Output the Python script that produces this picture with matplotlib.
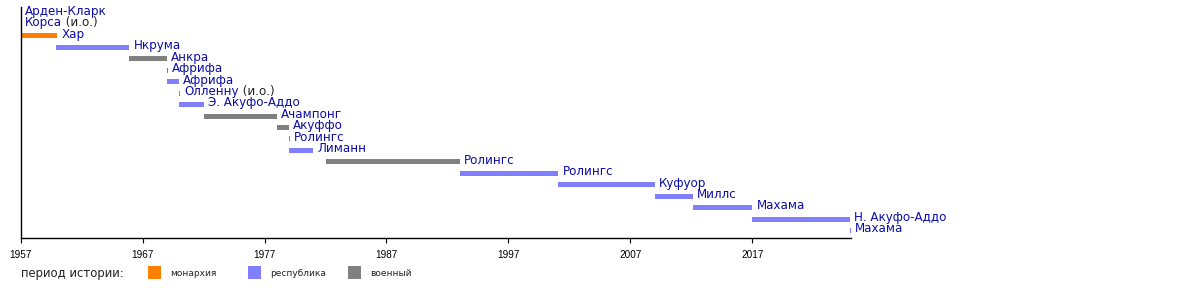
import matplotlib.pyplot as plt
from matplotlib.patches import Rectangle

# Главы государства Ганы (годы)
names = ['Арден-Кларк', 'Корса', 'Хар', 'Нкрума', 'Анкра', 'Африфа', 'Африфа',
         'Олленну', 'Э. Акуфо-Аддо', 'Ачампонг', 'Акуффо', 'Ролингс', 'Лиманн',
         'Ролингс', 'Ролингс', 'Куфуор', 'Миллс', 'Махама', 'Н. Акуфо-Аддо', 'Махама']
notes = ['', '(и.о.)', '', '', '', '', '', '(и.о.)', '', '', '', '', '', '', '', '', '', '', '', '']
starts = [1957.0, 1957.0, 1957.0, 1959.9, 1965.9, 1969.0, 1969.0, 1970.0, 1970.0, 1972.0,
          1978.0, 1979.0, 1979.0, 1982.0, 1993.0, 2001.1, 2009.0, 2012.1, 2017.0, 2025.0]
ends = [1957.0, 1957.0, 1960.0, 1965.9, 1969.0, 1969.08, 1970.0, 1970.08, 1972.0, 1978.0,
        1979.0, 1979.08, 1981.0, 1993.0, 2001.1, 2009.0, 2012.1, 2017.0, 2025.0, 2025.08]
periods = ['m', 'm', 'm', 'r', 'v', 'v', 'r', 'r', 'r', 'v',
           'v', 'v', 'r', 'v', 'r', 'r', 'r', 'r', 'r', 'r']

period_colors = {'m': '#ff8000', 'r': '#8080ff', 'v': '#808080'}
legend_keys = ['m', 'r', 'v']
legend_labels = ['монархия', 'республика', 'военный']
ticks = [1957, 1967, 1977, 1987, 1997, 2007, 2017]

W, H = 1200, 288
fig = plt.figure(figsize=(12, 2.88), dpi=100)

# область графика в пикселях
left, right, top, bottom = 20.7, 851.0, 7.0, 238.3
ax = fig.add_axes([left / W, (H - bottom) / H, (right - left) / W, (bottom - top) / H])
px_per_year = 12.193
ax.set_xlim(1957, 1957 + (right - left) / px_per_year)
row_h = 11.44
row0 = 13.1
ax.set_ylim((bottom - row0) / row_h, (top - row0) / row_h)

for i in range(len(names)):
    ax.barh(i, ends[i] - starts[i], left=starts[i], height=0.44,
            color=period_colors[periods[i]], linewidth=0)
    t = ax.annotate(names[i], xy=(ends[i], i), xytext=(3, 1.2), textcoords='offset points',
                    va='center', ha='left', fontsize=8.6, color='#0c0ca8',
                    annotation_clip=False)
    if notes[i]:
        ax.annotate(' ' + notes[i], xy=(1, 0), xycoords=t, va='bottom', ha='left',
                    fontsize=8.6, color='#222222')

for s in ['top', 'right']:
    ax.spines[s].set_visible(False)
ax.spines['left'].set_linewidth(1.0)
ax.spines['bottom'].set_linewidth(1.0)
ax.set_yticks([])
ax.set_xticks(ticks)
ax.set_xticklabels([str(t) for t in ticks], family='Liberation Sans', fontsize=7.2)
ax.tick_params(axis='x', direction='out', length=3.6, width=0.8, pad=5, colors='black')
ax.patch.set_alpha(0)

# легенда
ly = 273
fig.text(21 / W, (H - ly) / H, 'период истории:', fontsize=8.4, color='#222222', va='center')
for k, (key, lab) in enumerate(zip(legend_keys, legend_labels)):
    x0 = 148 + 100 * k
    fig.add_artist(Rectangle((x0 / W, (H - 279) / H), 13 / W, 13 / H,
                             transform=fig.transFigure, color=period_colors[key], lw=0))
    fig.text((x0 + 22) / W, (H - ly) / H, lab, fontsize=6.5, color='#222222', va='center')

fig.savefig('out.png', dpi=100)
